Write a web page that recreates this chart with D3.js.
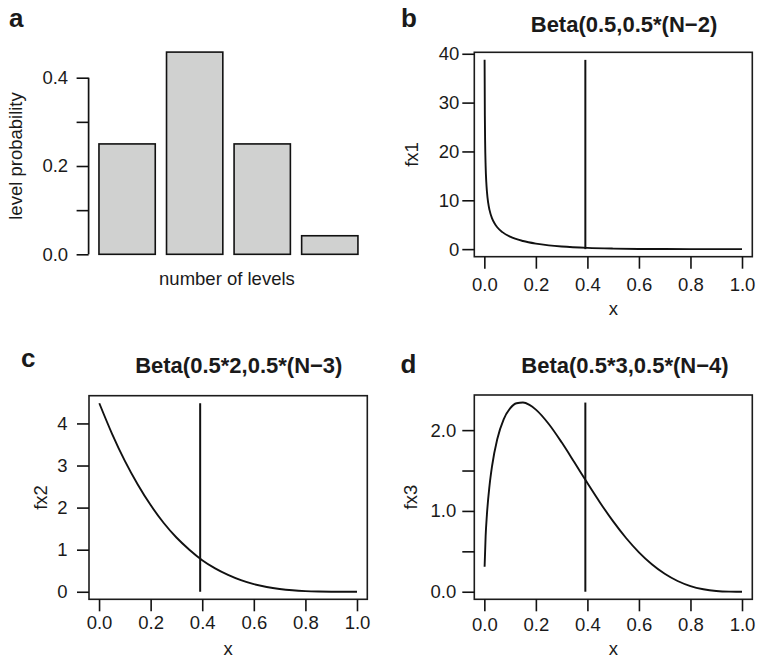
<!DOCTYPE html>
<html>
<head>
<meta charset="utf-8">
<script src="https://cdn.jsdelivr.net/npm/d3@7"></script>
<style>
  html, body { margin: 0; padding: 0; background: #ffffff; }
  svg { display: block; }
  text { font-family: "Liberation Sans", Arial, Helvetica, sans-serif; fill: #1a1a1a; }
</style>
</head>
<body>
<svg id="chart" width="758" height="657"></svg>
<script>
// ---- panel a: probability of each number of levels ----
const levelCategories = ["1", "2", "3", "4"];
const levelProb = [0.25, 0.458, 0.25, 0.042];
const levelTicks = [0, 0.1, 0.2, 0.3, 0.4];
const levelTickLabels = ["0.0", "", "0.2", "", "0.4"];

// ---- panel b: Beta(0.5, 0.5*(N-2)) density ----
const xB = [0.001, 0.002, 0.003, 0.005, 0.0075, 0.01, 0.015, 0.02, 0.03, 0.04, 0.05, 0.07,
            0.1, 0.15, 0.2, 0.25, 0.3, 0.4, 0.5, 0.6, 0.7, 0.8, 0.9, 1.0];
const fx1 = [38.75, 27.3, 22.2, 17.05, 13.78, 11.82, 9.45, 8.03, 6.29, 5.23, 4.48, 3.48,
             2.55, 1.66, 1.13, 0.78, 0.54, 0.25, 0.11, 0.04, 0.012, 0.002, 0.0001, 0];

// ---- panel c: Beta(0.5*2, 0.5*(N-3)) density ----
const xC = [0.001, 0.05, 0.1, 0.15, 0.2, 0.25, 0.3, 0.35, 0.4, 0.45, 0.5, 0.55, 0.6,
            0.65, 0.7, 0.75, 0.8, 0.85, 0.9, 0.95, 1.0];
const fx2 = [4.48, 3.76, 3.11, 2.55, 2.06, 1.64, 1.29, 1.0, 0.75, 0.555, 0.40, 0.275, 0.18,
             0.114, 0.067, 0.035, 0.016, 0.006, 0.0014, 0.0001, 0];

// ---- panel d: Beta(0.5*3, 0.5*(N-4)) density ----
const xD = [0.001, 0.005, 0.01, 0.02, 0.03, 0.05, 0.075, 0.1, 0.125, 0.15, 0.175, 0.2,
            0.25, 0.3, 0.35, 0.4, 0.45, 0.5, 0.55, 0.6, 0.65, 0.7, 0.75, 0.8, 0.85, 0.9, 0.95, 1.0];
const fx3 = [0.31, 0.686, 0.955, 1.31, 1.556, 1.887, 2.134, 2.269, 2.332, 2.341, 2.312, 2.254,
             2.076, 1.849, 1.599, 1.345, 1.099, 0.87, 0.665, 0.488, 0.34, 0.222, 0.133, 0.07,
             0.031, 0.009, 0.0012, 0];

// observed value marked on each density
const cutoff = 0.392;

const xTicks = [0, 0.2, 0.4, 0.6, 0.8, 1.0];

const svg = d3.select("#chart");
const ink = "#111111";
const FS = 18.5;       // axis text size
const FS_TITLE = 22;   // panel title size
const FS_TAG = 26;     // panel letter size

// R-style 4% padding of a data range
const pad = (lo, hi) => [lo - 0.04 * (hi - lo), hi + 0.04 * (hi - lo)];

function tag(letter, x, y) {
  svg.append("text").attr("x", x).attr("y", y)
    .attr("font-size", FS_TAG).attr("font-weight", "bold").attr("fill", "#111")
    .text(letter);
}

function styleAxis(g) {
  g.select(".domain").remove();
  g.selectAll(".tick line").attr("stroke", ink).attr("stroke-width", 1.6);
  g.selectAll(".tick text").attr("font-size", FS).attr("fill", "#1a1a1a")
    .attr("font-family", "\"Liberation Sans\", Arial, Helvetica, sans-serif");
}

// ---------------- panel a ----------------
(function () {
  const plotL = 88.6, plotR = 368.3;
  const unit = (plotR - plotL) / 4.968;       // width of one bar
  const step = unit * 1.2;
  const x = d3.scaleBand()
    .domain(levelCategories)
    .range([plotL + 0.084 * unit, plotL + 0.084 * unit + 4 * step])
    .paddingInner(1 / 6)
    .paddingOuter(1 / 12);
  const y = d3.scaleLinear().domain([0, 0.4]).range([254.3, 77.7]);

  const g = svg.append("g");
  g.selectAll("rect.bar")
    .data(levelProb)
    .join("rect")
    .attr("class", "bar")
    .attr("x", (d, i) => x(levelCategories[i]))
    .attr("width", x.bandwidth())
    .attr("y", d => y(d))
    .attr("height", d => y(0) - y(d))
    .attr("fill", "#d0d1d0")
    .attr("stroke", ink)
    .attr("stroke-width", 1.6);

  const ax = g.append("g").attr("transform", `translate(${plotL},0)`)
    .call(d3.axisLeft(y).tickValues(levelTicks)
      .tickFormat((d, i) => levelTickLabels[i]).tickSize(12).tickPadding(8.5));
  styleAxis(ax);
  g.append("line")
    .attr("x1", plotL).attr("x2", plotL)
    .attr("y1", y(levelTicks[0])).attr("y2", y(levelTicks[levelTicks.length - 1]))
    .attr("stroke", ink).attr("stroke-width", 1.7);

  g.append("text").attr("x", (plotL + plotR) / 2 - 1.5).attr("y", 285)
    .attr("text-anchor", "middle").attr("font-size", FS).text("number of levels");
  g.append("text").attr("transform", "translate(21.8,156) rotate(-90)")
    .attr("text-anchor", "middle").attr("font-size", FS).text("level probability");
  tag("a", 9, 27);
})();

// ---------------- density panels ----------------
function densityPanel(cfg) {
  const { box, xs, ys, yTicks, yFmt, title, titleX, titleY, yLabel, yLabelX,
          xLabelY, xPad, yPad } = cfg;
  const x = d3.scaleLinear().domain(pad(d3.min(xs), d3.max(xs))).range([box.l, box.r]);
  const y = d3.scaleLinear().domain(pad(0, d3.max(ys))).range([box.b, box.t]);
  const g = svg.append("g");

  const pts = xs.map((v, i) => [v, ys[i]]);
  g.append("path")
    .attr("d", d3.line().x(d => x(d[0])).y(d => y(d[1])).curve(d3.curveMonotoneX)(pts))
    .attr("fill", "none").attr("stroke", ink).attr("stroke-width", 1.9)
    .attr("stroke-linejoin", "round");

  g.append("line")
    .attr("x1", x(cutoff)).attr("x2", x(cutoff))
    .attr("y1", y(0)).attr("y2", y(d3.max(ys)))
    .attr("stroke", ink).attr("stroke-width", 2);

  g.append("rect")
    .attr("x", box.l).attr("y", box.t)
    .attr("width", box.r - box.l).attr("height", box.b - box.t)
    .attr("fill", "none").attr("stroke", "#1c1c1c").attr("stroke-width", 1.6);

  const axB = g.append("g").attr("transform", `translate(0,${box.b})`)
    .call(d3.axisBottom(x).tickValues(xTicks).tickFormat(d3.format(".1f"))
      .tickSize(12).tickPadding(xPad));
  styleAxis(axB);

  const axL = g.append("g").attr("transform", `translate(${box.l},0)`)
    .call(d3.axisLeft(y).tickValues(yTicks).tickFormat(yFmt)
      .tickSize(12).tickPadding(yPad));
  styleAxis(axL);

  g.append("text").attr("x", titleX).attr("y", titleY)
    .attr("text-anchor", "middle").attr("font-size", FS_TITLE)
    .attr("font-weight", "bold").attr("fill", "#111").text(title);
  g.append("text").attr("x", (box.l + box.r) / 2).attr("y", xLabelY)
    .attr("text-anchor", "middle").attr("font-size", FS).text("x");
  g.append("text").attr("transform", `translate(${yLabelX},${(box.t + box.b) / 2}) rotate(-90)`)
    .attr("text-anchor", "middle").attr("font-size", FS).text(yLabel);
}

densityPanel({
  box: { l: 474.3, r: 752.3, t: 52.3, b: 256.7 },
  xs: xB, ys: fx1,
  yTicks: [0, 10, 20, 30, 40], yFmt: d3.format("d"),
  title: "Beta(0.5,0.5*(N\u22122)", titleX: 624, titleY: 31.7,
  yLabel: "fx1", yLabelX: 418, xLabelY: 315, xPad: 9, yPad: 3
});
tag("b", 401, 27);

densityPanel({
  box: { l: 89, r: 367.3, t: 395.7, b: 599.3 },
  xs: xC, ys: fx2,
  yTicks: [0, 1, 2, 3, 4], yFmt: d3.format("d"),
  title: "Beta(0.5*2,0.5*(N\u22123)", titleX: 238.8, titleY: 373.3,
  yLabel: "fx2", yLabelX: 46.5, xLabelY: 655, xPad: 5, yPad: 9.5
});
tag("c", 21, 367);

densityPanel({
  box: { l: 474.3, r: 752.3, t: 395, b: 599.3 },
  xs: xD, ys: fx3,
  yTicks: [0, 0.5, 1, 1.5, 2], yFmt: d => (d % 1 === 0 ? d3.format(".1f")(d) : ""),
  title: "Beta(0.5*3,0.5*(N\u22124)", titleX: 625, titleY: 373.3,
  yLabel: "fx3", yLabelX: 416.5, xLabelY: 655, xPad: 6.5, yPad: 6
});
tag("d", 400.5, 372.5);
</script>
</body>
</html>
